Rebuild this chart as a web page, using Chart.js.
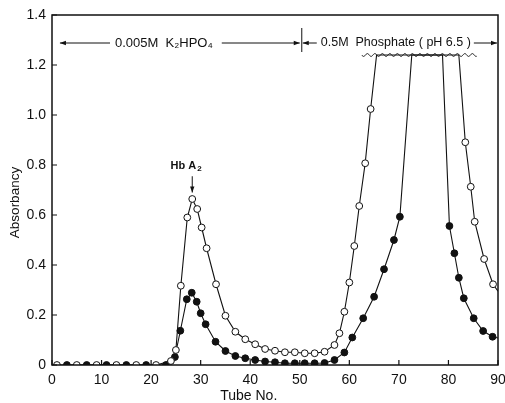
<!DOCTYPE html>
<html>
<head>
<meta charset="utf-8">
<script src="https://cdn.jsdelivr.net/npm/chart.js@4.4.0/dist/chart.umd.min.js"></script>
<style>
  html, body { margin: 0; padding: 0; background: #fff; }
  #wrap { width: 505px; height: 403px; }
</style>
</head>
<body>
<div id="wrap"><canvas id="chart" width="505" height="403"></canvas></div>
<script>
// tube number / absorbancy
// open circles
var openTubes = [1, 5, 9, 13, 17, 21, 24, 25, 26, 27.3, 28.3, 29.3, 30.2, 31.2, 33.1, 35, 37, 39, 41, 43, 45, 47, 49, 51, 53, 55, 57, 58, 59, 60, 61, 62, 63.2, 64.3, 65.5, 82.1, 83.4, 84.5, 85.3, 87.2, 89, 90];
var openValues = [0, 0, 0, 0, 0, 0, 0.016, 0.06, 0.317, 0.59, 0.664, 0.624, 0.55, 0.467, 0.323, 0.197, 0.133, 0.103, 0.083, 0.064, 0.057, 0.051, 0.051, 0.047, 0.047, 0.053, 0.08, 0.127, 0.213, 0.33, 0.476, 0.636, 0.807, 1.024, 1.24, 1.24, 0.891, 0.713, 0.573, 0.424, 0.323, 0.295];
// filled circles
var filledTubes = [3, 7, 11, 15, 19, 23, 24.8, 25.9, 27.2, 28.2, 29.2, 30, 31, 33, 35, 37, 39, 41, 43, 45, 47, 49, 51, 53, 55, 57, 59, 60.6, 62.8, 65, 67, 69, 70.2, 72.6, 78.8, 80.2, 81.2, 82.1, 83.1, 85.1, 87, 88.9, 90];
var filledValues = [0, 0, 0, 0, 0, 0, 0.032, 0.137, 0.263, 0.289, 0.253, 0.207, 0.163, 0.093, 0.056, 0.036, 0.027, 0.02, 0.014, 0.011, 0.007, 0.007, 0.007, 0.007, 0.008, 0.02, 0.05, 0.11, 0.187, 0.273, 0.383, 0.5, 0.593, 1.24, 1.24, 0.556, 0.447, 0.349, 0.267, 0.187, 0.136, 0.113, 0.108];

var xTicks = [0, 10, 20, 30, 40, 50, 60, 70, 80, 90];
var yTicks = [0, 0.2, 0.4, 0.6, 0.8, 1.0, 1.2, 1.4];
var offScale = 1.24;   // where the curves go off the top (wavy break)
var bufferChange = 50; // tube where 0.5M phosphate starts

var FONT = '"Liberation Sans", Arial, "DejaVu Sans", sans-serif';

function toPoints(xs, ys) {
  var pts = [];
  for (var i = 0; i < xs.length; i++) pts.push({x: xs[i], y: ys[i]});
  return pts;
}

function markerRadius(ctx) {
  var p = ctx.raw;
  if (!p) return 0;
  if (p.y >= offScale || p.x >= 90) return 0;
  return 3.4;
}

function noPad(s) {
  s.paddingLeft = 0; s.paddingRight = 0; s.paddingTop = 0; s.paddingBottom = 0;
}

var annotations = {
  id: 'annotations',
  afterDraw: function (chart) {
    var c = chart.ctx;
    var xs = chart.scales.x, ys = chart.scales.y;
    var a = chart.chartArea;
    c.save();
    c.strokeStyle = '#111';
    c.fillStyle = '#111';

    // frame
    c.lineWidth = 1.5;
    c.strokeRect(a.left, a.top, a.right - a.left, a.bottom - a.top);

    // inward ticks
    c.lineWidth = 1.2;
    c.beginPath();
    yTicks.forEach(function (v) {
      var py = ys.getPixelForValue(v);
      c.moveTo(a.left, py); c.lineTo(a.left + 5, py);
    });
    xTicks.forEach(function (v) {
      var px = xs.getPixelForValue(v);
      c.moveTo(px, a.bottom); c.lineTo(px, a.bottom - 5);
    });
    c.stroke();

    // axis titles
    c.font = '14px ' + FONT;
    c.textAlign = 'center';
    c.textBaseline = 'middle';
    c.fillText('Tube No.', xs.getPixelForValue(39.7), 396);
    c.font = '13.5px ' + FONT;
    c.save();
    c.translate(15, ys.getPixelForValue(0.65));
    c.rotate(-Math.PI / 2);
    c.fillText('Absorbancy', 0, 0);
    c.restore();

    // buffer annotation
    var ay = 43;
    var xb = xs.getPixelForValue(bufferChange);
    c.lineWidth = 1;
    c.beginPath();
    c.moveTo(xb + 2, 28); c.lineTo(xb + 2, 52);
    c.stroke();

    function arrow(x1, x2) {
      c.beginPath();
      c.moveTo(x1, ay); c.lineTo(x2, ay);
      c.stroke();
      var d = x2 > x1 ? -1 : 1;
      c.beginPath();
      c.moveTo(x2, ay); c.lineTo(x2 + d * 6, ay - 2.2); c.lineTo(x2 + d * 6, ay + 2.2);
      c.closePath();
      c.fill();
    }
    c.font = '13px ' + FONT;
    c.textAlign = 'left';
    var t1 = '0.005M  K\u2082HPO\u2084';
    var w1 = c.measureText(t1).width;
    var x1 = 115;
    c.fillText(t1, x1, ay);
    arrow(x1 - 5, xs.getPixelForValue(1.6));
    arrow(x1 + w1 + 9, xb);

    c.font = '12.5px ' + FONT;
    var t2 = '0.5M  Phosphate ( pH 6.5 )';
    var x2 = xb + 21;
    var w2 = c.measureText(t2).width;
    c.fillText(t2, x2, ay);
    arrow(x2 - 4, xb + 3);
    arrow(x2 + w2 + 3, a.right - 1);

    // wavy break line
    var wy = ys.getPixelForValue(offScale);
    var w0 = xs.getPixelForValue(62.5), wEnd = xs.getPixelForValue(85.8);
    c.lineWidth = 1;
    c.beginPath();
    for (var px = w0; px <= wEnd; px += 0.5) {
      var py = wy + 1.4 * Math.sin((px - w0) / 7.5 * 2 * Math.PI);
      if (px === w0) c.moveTo(px, py); else c.lineTo(px, py);
    }
    c.stroke();

    // Hb A2 label
    var hx = xs.getPixelForValue(28.3);
    c.font = 'bold 11px ' + FONT;
    c.textAlign = 'right';
    c.fillText('Hb A', hx + 4, ys.getPixelForValue(0.795));
    c.font = 'bold 8px ' + FONT;
    c.textAlign = 'left';
    c.fillText('2', hx + 5, ys.getPixelForValue(0.783));
    var yTop = ys.getPixelForValue(0.755), yTip = ys.getPixelForValue(0.69);
    c.lineWidth = 1;
    c.beginPath();
    c.moveTo(hx, yTop); c.lineTo(hx, yTip);
    c.stroke();
    c.beginPath();
    c.moveTo(hx, yTip); c.lineTo(hx - 2.2, yTip - 6); c.lineTo(hx + 2.2, yTip - 6);
    c.closePath();
    c.fill();

    c.restore();
  }
};

var chart = new Chart(document.getElementById('chart'), {
  type: 'line',
  data: {
    datasets: [{
      label: 'open',
      data: toPoints(openTubes, openValues),
      borderColor: '#111',
      borderWidth: 1.1,
      backgroundColor: '#fff',
      pointBackgroundColor: '#fff',
      pointBorderColor: '#111',
      pointBorderWidth: 1,
      pointRadius: markerRadius,
      tension: 0
    }, {
      label: 'filled',
      data: toPoints(filledTubes, filledValues),
      borderColor: '#111',
      borderWidth: 1.1,
      backgroundColor: '#111',
      pointBackgroundColor: '#111',
      pointBorderColor: '#111',
      pointBorderWidth: 1,
      pointRadius: markerRadius,
      tension: 0
    }]
  },
  options: {
    responsive: false,
    animation: false,
    events: [],
    layout: { padding: { top: 15, right: 7, left: 0, bottom: 0 } },
    plugins: { legend: { display: false }, tooltip: { enabled: false } },
    scales: {
      x: {
        type: 'linear',
        min: 0, max: 90,
        afterBuildTicks: function (s) { s.ticks = xTicks.map(function (v) { return {value: v}; }); },
        afterFit: function (s) { s.height = 38; noPad(s); },
        grid: { display: false, drawTicks: false },
        border: { display: false },
        ticks: { color: '#111', font: { size: 14, family: FONT }, padding: 7, maxRotation: 0, autoSkip: false }
      },
      y: {
        min: 0, max: 1.4,
        afterBuildTicks: function (s) { s.ticks = yTicks.map(function (v) { return {value: v}; }); },
        afterFit: function (s) { s.width = 52; noPad(s); },
        grid: { display: false, drawTicks: false },
        border: { display: false },
        ticks: {
          color: '#111', font: { size: 14, family: FONT }, padding: 6,
          callback: function (v) { return v === 0 ? '0' : v.toFixed(1); }
        }
      }
    }
  },
  plugins: [annotations]
});
</script>
</body>
</html>
